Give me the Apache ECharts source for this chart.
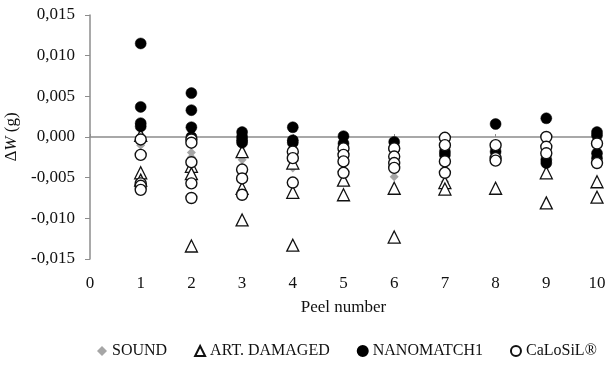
<!DOCTYPE html>
<html><head><meta charset="utf-8">
<script src="https://cdn.jsdelivr.net/npm/echarts@6/dist/echarts.min.js"></script>
<style>html,body{margin:0;padding:0;background:#fff}#c{width:607px;height:367px}</style>
</head><body><div id="c"></div>
<script>
var peels = [1,2,3,4,5,6,7,8,9,10];
var xTicks = [0,1,2,3,4,5,6,7,8,9,10];
var yTicks = [-0.015,-0.010,-0.005,0,0.005,0.010,0.015];
// values per peel (index 0 = peel 1)
var sound = [[-0.0010,-0.0007],[-0.0019,-0.0025,-0.0043],[-0.0028],[-0.0038],[-0.0045],[-0.0049],[-0.0055],[-0.0020],[-0.0030],[-0.0025]];
var artDamaged = [[0.0002,-0.0044,-0.0053],[-0.0036,-0.0045,-0.0134],[-0.0018,-0.0063,-0.0102],[-0.0032,-0.0068,-0.0133],[-0.0053,-0.0071],[-0.0063,-0.0123],[-0.0056,-0.0064],[-0.0063],[-0.0044,-0.0081],[-0.0055,-0.0074]];
var nanomatch = [[0.0115,0.0037,0.0017,0.0013],[0.0054,0.0033,0.0012,0.0000],[0.0006,0.0000,-0.0004,-0.0007],[0.0012,-0.0004,-0.0007],[0.0001,-0.0008],[-0.0006,-0.0014],[-0.0018,-0.0022],[0.0016,-0.0018],[0.0023,-0.0028,-0.0032],[0.0006,0.0002,-0.0020,-0.0026]];
var calosil = [[-0.0003,-0.0022,-0.0057,-0.0060,-0.0065],[-0.0003,-0.0007,-0.0031,-0.0057,-0.0075],[-0.0040,-0.0051,-0.0071],[-0.0018,-0.0026,-0.0056],[-0.0014,-0.0022,-0.0030,-0.0044],[-0.0014,-0.0024,-0.0032,-0.0038],[-0.0001,-0.0010,-0.0030,-0.0044],[-0.0010,-0.0026,-0.0029],[0.0000,-0.0012,-0.0020],[-0.0008,-0.0032]];

function pts(arr){var out=[];arr.forEach(function(vs,i){vs.forEach(function(v){out.push([peels[i],v]);});});return out;}
var FONT='Liberation Serif';
var chart = echarts.init(document.getElementById('c'),null,{renderer:'canvas'});
chart.setOption({
  animation:false,
  backgroundColor:'#fff',
  grid:{left:90,right:10,top:15,bottom:108,outerBoundsMode:'none',containLabel:false},
  legend:{
    bottom:8,left:97,width:510,padding:0,itemWidth:10,itemHeight:10,itemGap:27,
    textStyle:{fontFamily:FONT,fontSize:16,color:'#111'},
    data:['SOUND','ART. DAMAGED','NANOMATCH1','CaLoSiL®']
  },
  xAxis:[{
    type:'value',min:0,max:10,interval:1,position:'bottom',
    name:'Peel number',nameLocation:'middle',nameGap:40,
    nameTextStyle:{fontFamily:FONT,fontSize:17,color:'#111'},
    axisLine:{show:false,onZero:false},axisTick:{show:false},splitLine:{show:false},
    axisLabel:{fontFamily:FONT,fontSize:17,color:'#111',margin:16}
  },{
    type:'value',min:0,max:10,interval:1,position:'top',
    axisLine:{show:true,onZero:true,lineStyle:{color:'#8c8c8c',width:1.5}},
    axisTick:{show:true,length:3,lineStyle:{color:'#8c8c8c'}},
    axisLabel:{show:false},splitLine:{show:false}
  }],
  yAxis:{
    type:'value',min:-0.015,max:0.015,interval:0.005,
    name:'{d|Δ}{w|W}{d| (g)}',nameLocation:'middle',nameGap:69,nameRotate:90,
    nameTextStyle:{rich:{d:{fontFamily:FONT,fontSize:17,color:'#111'},w:{fontFamily:FONT,fontSize:17,fontStyle:'italic',color:'#111'}}},
    axisLine:{show:true,lineStyle:{color:'#8c8c8c',width:1.5}},
    axisTick:{show:true,length:5,lineStyle:{color:'#8c8c8c'}},
    splitLine:{show:false},
    axisLabel:{fontFamily:FONT,fontSize:17,color:'#111',margin:15,
      formatter:function(v){return v.toFixed(3).replace('.',',');}}
  },
  series:[
    {name:'SOUND',type:'scatter',data:pts(sound),symbol:'diamond',symbolSize:9,
     itemStyle:{color:'#a6a6a6',opacity:1}},
    {name:'ART. DAMAGED',type:'scatter',data:pts(artDamaged),symbol:'triangle',symbolSize:12,
     itemStyle:{color:'#fff',borderColor:'#111',borderWidth:1.3,opacity:1}},
    {name:'NANOMATCH1',type:'scatter',data:pts(nanomatch),symbol:'circle',symbolSize:11,
     itemStyle:{color:'#000',borderColor:'#000',borderWidth:0.5,opacity:1}},
    {name:'CaLoSiL®',type:'scatter',data:pts(calosil),symbol:'circle',symbolSize:11,
     itemStyle:{color:'#fff',borderColor:'#111',borderWidth:1.4,opacity:1}}
  ]
});
</script></body></html>
